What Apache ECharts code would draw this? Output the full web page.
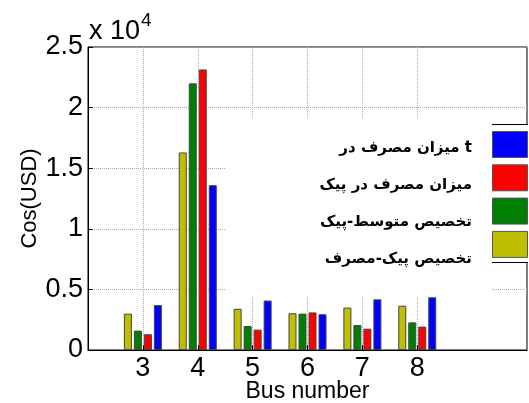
<!DOCTYPE html>
<html>
<head>
<meta charset="utf-8">
<script src="https://cdn.jsdelivr.net/npm/echarts@6/dist/echarts.min.js"></script>
<style>html,body{margin:0;padding:0;background:#fff}#c{width:529px;height:403px}</style>
</head>
<body>
<div id="c"></div>
<script>
// Data
const categories = ['2', '3', '4', '5', '6', '7', '8', '9', '10'];
const buses = ['3', '4', '5', '6', '7', '8'];
const seriesNames = ['تخصیص پیک-مصرف', 'تخصیص متوسط-پیک', 'میزان مصرف در پیک', 'میزان مصرف در t'];
const seriesColors = ['#bfbf00', '#007f00', '#ff0000', '#0000ff'];
const peakConsumptionAlloc = [3000, 16300, 3400, 3030, 3500, 3650];
const avgPeakAlloc = [1600, 22000, 1980, 3000, 2060, 2280];
const peakConsumption = [1300, 23150, 1680, 3100, 1760, 1930];
const consumptionT = [3700, 13600, 4080, 2950, 4180, 4350];
const yTickLabels = ['0', '0.5', '1', '1.5', '2', '2.5'];

const seriesValues = [peakConsumptionAlloc, avgPeakAlloc, peakConsumption, consumptionT];
function fullData(vals) {
  return categories.map(c => { const i = buses.indexOf(c); return i >= 0 ? vals[i] : null; });
}
const shown = (idx) => idx >= 1 && idx <= 6;

const chart = echarts.init(document.getElementById('c'));
const numFont = "'Liberation Sans', Arial, sans-serif";
const faFont = "'DejaVu Sans', sans-serif";

const legendGraphics = [];
// cover rectangles (legend background)
legendGraphics.push({type: 'rect', shape: {x: 225, y: 118, width: 267, height: 178}, style: {fill: '#fff'}, z: 1});
legendGraphics.push({type: 'rect', shape: {x: 492, y: 124, width: 37, height: 138}, style: {fill: '#fff'}, z: 1});
legendGraphics.push({type: 'line', shape: {x1: 492, y1: 124.5, x2: 528, y2: 124.5}, style: {stroke: '#000', lineWidth: 1}, z: 1});
legendGraphics.push({type: 'line', shape: {x1: 492, y1: 262.5, x2: 528, y2: 262.5}, style: {stroke: '#000', lineWidth: 1}, z: 1});
for (let i = 0; i < 4; i++) {
  const s = 3 - i;
  legendGraphics.push({type: 'rect', shape: {x: 492.5, y: 131.5 + i * 33.3, width: 35, height: 26},
    style: {fill: seriesColors[s], stroke: '#555', lineWidth: 1}, z: 3});
  legendGraphics.push({type: 'text', x: 472, y: 148 + i * 37,
    style: {text: seriesNames[s], fill: '#000', font: 'bold 15px ' + faFont, align: 'right', verticalAlign: 'middle'}, z: 3});
}
legendGraphics.push({type: 'text', x: 89, y: 45, style: {text: 'x 10', fill: '#000', font: '27px ' + numFont, align: 'left', verticalAlign: 'bottom'}, z: 3});
legendGraphics.push({type: 'text', x: 141, y: 11, style: {text: '4', fill: '#000', font: '19px ' + numFont, align: 'left', verticalAlign: 'top'}, z: 3});

chart.setOption({
  animation: false,
  backgroundColor: '#fff',
  grid: {left: 88, top: 47, right: 2, bottom: 53, outerBoundsMode: 'none', containLabel: false,
    show: true, borderColor: '#000', borderWidth: 1, backgroundColor: 'transparent'},
  xAxis: {
    type: 'category', data: categories, boundaryGap: false,
    name: 'Bus number', nameLocation: 'middle', nameGap: 30, nameMoveOverlap: false,
    nameTextStyle: {fontFamily: numFont, fontSize: 23, color: '#000'},
    axisLine: {lineStyle: {color: '#000', width: 1}},
    axisTick: {inside: true, length: 5, interval: shown, lineStyle: {color: '#000'}},
    axisLabel: {interval: shown, fontFamily: numFont, fontSize: 27, color: '#000', margin: 5},
    splitLine: {show: true, interval: shown, lineStyle: {color: '#aaa', type: 'dotted', width: 1}}
  },
  yAxis: {
    type: 'value', min: 0, max: 25000, interval: 5000,
    name: 'Cos(USD)', nameLocation: 'middle', nameGap: 47, nameMoveOverlap: false,
    nameTextStyle: {fontFamily: numFont, fontSize: 22, color: '#000'},
    axisLine: {show: true, lineStyle: {color: '#000', width: 1}},
    axisTick: {show: true, inside: true, length: 5, lineStyle: {color: '#000'}},
    axisLabel: {fontFamily: numFont, fontSize: 27, color: '#000', margin: 5,
      formatter: (v) => yTickLabels[Math.round(v / 5000)]},
    splitLine: {show: true, lineStyle: {color: '#aaa', type: 'dotted', width: 1}}
  },
  series: seriesValues.map((vals, k) => ({
    type: 'bar', name: seriesNames[k], data: fullData(vals),
    barWidth: 8, barGap: '25%', z: 2,
    itemStyle: {color: seriesColors[k], borderColor: '#444', borderWidth: 1}
  })),
  graphic: legendGraphics
});
</script>
</body>
</html>
